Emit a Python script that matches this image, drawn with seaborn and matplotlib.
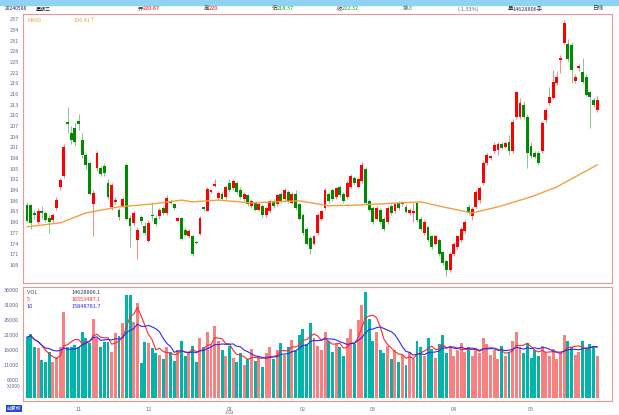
import numpy as np
import pandas as pd
import matplotlib
matplotlib.use('Agg')
import matplotlib.pyplot as plt
from matplotlib.patches import Rectangle
import seaborn as sns

# daily candles
opens = [
    184.8, 184.8, 182.5, 180.1, 183.2, 182.5, 181.1, 180.6, 184.0, 189.9,
    193.0, 208.2, 205.0, 206.5, 208.5, 203.0, 198.9, 196.6, 185.1, 195.2,
    195.2, 195.8, 191.0, 184.3, 185.8, 183.4, 184.6, 196.0, 181.2, 179.8,
    175.0, 181.5, 179.0, 174.8, 181.9, 181.2, 181.7, 184.0, 182.6, 185.7,
    185.1, 180.3, 181.2, 177.8, 176.0, 176.0, 174.4, 176.7, 184.1, 183.2,
    188.6, 190.3, 186.8, 188.0, 187.0, 191.0, 189.5, 191.0, 189.0, 186.5,
    187.5, 184.5, 185.5, 183.5, 184.5, 182.0, 183.0, 186.0, 185.0, 188.0,
    186.5, 188.5, 185.5, 188.0, 185.0, 182.0, 178.0, 175.5, 174.0, 177.0,
    181.0, 184.0, 188.0, 189.0, 187.0, 190.0, 188.0, 187.0, 190.0, 192.5,
    190.0, 191.5, 195.0, 186.0, 184.0, 181.0, 183.5, 181.0, 180.0, 184.5,
    183.0, 185.5, 185.0, 184.3, 182.5, 182.7, 185.4, 181.0, 177.0, 178.5,
    176.0, 174.0, 175.0, 171.5, 169.0, 166.5, 171.0, 173.0, 175.0, 177.5,
    184.3, 181.8, 184.3, 186.2, 191.0, 196.6, 198.1, 200.0, 200.3, 202.0,
    201.1, 202.6, 200.0, 209.6, 209.6, 212.9, 209.6, 201.4, 199.4, 199.4,
    200.0, 208.7, 213.5, 215.0, 219.1, 225.7, 230.3, 230.0, 229.8, 219.7,
    223.4, 222.2, 220.8, 216.6, 214.3, 211.5,
]
highs = [
    185.6, 185.2, 183.5, 184.0, 184.5, 183.0, 182.0, 182.5, 187.0, 192.5,
    202.0, 212.4, 207.0, 208.0, 210.5, 205.0, 199.5, 197.0, 189.0, 200.0,
    195.8, 196.5, 192.0, 191.0, 187.0, 184.0, 187.0, 196.5, 182.0, 183.0,
    178.5, 182.0, 180.0, 180.5, 185.7, 182.0, 184.0, 184.5, 187.5, 186.5,
    185.5, 181.5, 181.5, 178.5, 178.0, 176.5, 174.6, 181.8, 184.5, 190.0,
    189.2, 192.0, 188.8, 188.5, 190.5, 192.0, 192.0, 191.5, 190.0, 188.5,
    188.0, 186.5, 186.0, 185.5, 185.0, 184.5, 186.5, 186.5, 188.0, 188.5,
    189.5, 189.0, 188.5, 189.0, 185.5, 182.5, 178.5, 176.0, 176.5, 182.5,
    183.5, 189.5, 188.5, 189.5, 190.0, 190.5, 188.5, 191.5, 193.5, 193.0,
    192.5, 197.0, 195.5, 186.5, 184.5, 184.5, 184.0, 181.5, 184.5, 185.0,
    185.5, 186.0, 186.0, 185.0, 184.0, 185.5, 186.0, 181.5, 180.5, 179.0,
    176.5, 176.5, 175.5, 172.0, 169.5, 171.5, 174.5, 176.5, 178.5, 180.5,
    185.0, 184.2, 189.0, 190.2, 197.5, 199.5, 199.0, 202.5, 202.5, 202.5,
    202.8, 204.5, 209.0, 217.0, 215.0, 214.0, 210.5, 202.5, 200.0, 200.0,
    208.5, 212.0, 218.0, 222.8, 222.5, 227.0, 236.8, 231.5, 230.5, 221.5,
    224.5, 226.0, 221.5, 217.0, 215.0, 215.5,
]
lows = [
    180.0, 178.0, 181.0, 179.5, 181.0, 180.0, 177.0, 179.8, 183.5, 189.0,
    192.5, 205.1, 202.0, 201.5, 206.0, 198.0, 195.0, 187.5, 176.0, 194.5,
    193.0, 193.0, 186.5, 183.5, 185.0, 180.5, 184.0, 180.5, 173.0, 179.0,
    169.7, 179.5, 176.5, 174.5, 180.5, 179.0, 181.0, 182.0, 182.0, 185.0,
    183.5, 180.0, 175.0, 176.0, 175.5, 170.5, 173.8, 176.5, 183.0, 183.0,
    188.2, 189.8, 186.5, 186.0, 186.5, 188.5, 189.0, 188.0, 186.5, 186.0,
    184.5, 184.0, 183.0, 183.0, 181.5, 181.5, 182.5, 184.0, 184.5, 185.5,
    186.0, 185.5, 185.0, 183.5, 180.5, 176.5, 173.5, 171.0, 173.5, 176.5,
    180.5, 183.5, 185.5, 186.0, 186.5, 187.0, 185.5, 186.5, 189.5, 190.5,
    189.5, 191.0, 185.0, 183.0, 179.5, 180.5, 179.5, 177.5, 179.5, 182.0,
    182.5, 183.5, 184.5, 182.5, 182.0, 180.0, 180.0, 177.5, 176.5, 174.5,
    172.5, 173.5, 170.5, 168.0, 165.0, 166.0, 170.5, 172.5, 174.5, 177.0,
    182.0, 180.5, 184.0, 185.5, 190.5, 196.0, 197.5, 199.5, 199.0, 200.5,
    200.8, 199.0, 199.5, 209.0, 209.0, 209.0, 195.2, 198.0, 198.0, 196.0,
    199.5, 208.0, 213.0, 214.5, 218.5, 222.0, 230.0, 225.0, 219.0, 219.0,
    222.5, 219.0, 215.5, 206.5, 212.5, 211.0,
]
closes = [
    180.4, 179.8, 182.1, 183.2, 182.6, 180.6, 180.0, 182.0, 186.2, 191.9,
    201.0, 207.6, 203.0, 202.5, 207.5, 198.9, 196.0, 188.0, 188.2, 199.4,
    193.5, 193.8, 187.0, 190.5, 186.2, 181.4, 186.5, 180.9, 179.0, 182.6,
    177.8, 180.3, 177.0, 179.8, 181.6, 179.5, 183.4, 182.6, 186.8, 185.3,
    184.0, 181.2, 175.3, 176.4, 177.5, 171.0, 174.1, 181.2, 183.8, 189.3,
    188.9, 190.6, 188.2, 186.5, 190.0, 189.0, 191.5, 188.5, 187.0, 188.0,
    185.0, 186.0, 183.5, 185.0, 182.0, 184.0, 186.0, 184.5, 187.5, 186.0,
    189.0, 186.0, 188.0, 184.0, 181.0, 177.0, 174.0, 172.5, 176.0, 182.0,
    183.0, 189.0, 186.0, 186.5, 189.5, 187.5, 186.0, 191.0, 193.0, 191.0,
    192.0, 196.0, 185.5, 183.5, 180.0, 184.0, 180.0, 178.0, 184.0, 182.5,
    185.0, 184.0, 185.8, 182.9, 183.5, 183.2, 180.6, 178.0, 180.0, 175.0,
    173.0, 176.0, 171.0, 168.5, 166.5, 171.0, 174.0, 176.0, 178.0, 180.0,
    182.6, 183.7, 188.5, 189.6, 196.6, 198.9, 198.5, 201.7, 202.0, 200.8,
    202.3, 200.0, 208.2, 216.6, 213.5, 209.6, 199.4, 198.6, 198.3, 196.6,
    207.9, 211.5, 215.2, 219.4, 220.8, 226.1, 236.0, 225.9, 222.8, 220.8,
    223.8, 219.4, 215.7, 215.2, 212.9, 214.3,
]
volumes = [
    20300, 21300, 17100, 16700, 12700, 12200, 15400, 12200, 13800, 17100,
    28800, 17100, 17100, 17600, 17100, 22100, 19900, 18300, 26300, 19900,
    17100, 18800, 18800, 15400, 21700, 20800, 25000, 34300, 34300, 25500,
    31800, 11600, 18800, 18400, 16700, 15000, 14500, 13000, 17000, 15500,
    12500, 16000, 19000, 14000, 15000, 17500, 12000, 20000, 17000, 22000,
    18000, 24000, 19000, 16000, 14000, 17500, 13500, 12000, 15000, 11000,
    13000, 16500, 12500, 14000, 10500, 15000, 17000, 13000, 16000, 18500,
    14500, 17000, 19500, 16000, 21000, 23000, 18000, 25000, 20000, 17500,
    16000, 22000, 19000, 15500, 18000, 17000, 14000, 20000, 23000, 18000,
    26000, 31000, 35500, 26500, 19000, 22000, 16000, 15000, 17500, 13000,
    16000, 12000, 14500, 11000, 15500, 13000, 19000, 17000, 14000, 20000,
    16500, 13500, 18000, 21000, 15000, 17500, 14000, 16000, 18500, 15500,
    17000, 14000, 16500, 15000, 20000, 18000, 14500, 16000, 13000, 17500,
    14000, 15500, 19000, 22000, 17000, 15000, 18500, 13500, 16000, 14000,
    17500, 15500, 14000, 16500, 13000, 15000, 21000, 19000, 17000, 14500,
    15500, 19000, 16500, 18000, 17000, 14000,
]
# MA60 of the price, read at a few candles along the orange line
ma60_idx = [0, 9, 16, 25, 34, 42, 45, 52, 61, 69, 74, 82, 90, 101, 107, 113,
            121, 128, 137, 144, 150, 155]
ma60_val = [178.7, 179.8, 182.6, 184.3, 185.1, 186.2, 185.7, 186.2, 185.4,
            185.8, 186.0, 184.6, 184.8, 185.4, 185.7, 184.3, 182.6, 184.3,
            187.1, 189.9, 193.3, 196.1]

month_idx = [14, 33, 55, 75, 94, 116, 137]
month_labels = ['11', '12', '01', '02', '03', '04', '05']
price_ticks = list(range(168, 238, 3))
vol_ticks = [6000, 11000, 16000, 21000, 26000, 31000, 36000]

RED = '#FF0000'
GREEN = '#008A00'
VOL_RED = '#F98080'
VOL_GREEN = '#00B4AA'
BORDER = '#E89898'
TICK_COLOR = '#6A6A90'

W, H = 619, 415


def fx(px: float) -> float:
    return px / W


def fy(py: float) -> float:
    return 1 - py / H


def main() -> None:
    sns.set_style('white')
    plt.rcParams['font.family'] = ['Noto Sans CJK SC', 'DejaVu Sans']

    df = pd.DataFrame({
        'open': opens, 'high': highs, 'low': lows, 'close': closes,
        'volume': volumes,
    })
    df['idx'] = np.arange(len(df))
    df['up'] = df['close'] >= df['open']
    df['vol_ma5'] = df['volume'].rolling(5, min_periods=1).mean()
    df['vol_ma10'] = df['volume'].rolling(10, min_periods=1).mean()
    ma_df = pd.DataFrame({'idx': ma60_idx, 'ma60': ma60_val})

    fig = plt.figure(figsize=(W / 100, H / 100), dpi=100)
    fig.patches.append(Rectangle((0, fy(5)), 1, 5 / H, transform=fig.transFigure,
                                 color='#8ED3F4', zorder=0))

    price_ax = fig.add_axes([fx(23), fy(283), fx(612 - 23), (283 - 14) / H])
    vol_ax = fig.add_axes([fx(23), fy(401), fx(612 - 23), (401 - 287) / H],
                          sharex=price_ax)

    # PRICE AX
    colors = np.where(df['up'], RED, GREEN)
    price_ax.vlines(df['idx'], df['low'], df['high'], colors=colors,
                    linewidth=0.6, alpha=0.55, zorder=2)
    body_bottom = np.minimum(df['open'], df['close'])
    body_height = np.maximum((df['close'] - df['open']).abs(), 0.35)
    price_ax.bar(df['idx'], body_height, bottom=body_bottom, width=0.78,
                 color=colors, linewidth=0, zorder=3)
    sns.lineplot(ax=price_ax, data=ma_df, x='idx', y='ma60', color='#F4A040',
                 linewidth=1.0, zorder=4)
    price_ax.set_ylim(162.9, 238.5)
    price_ax.set_yticks(price_ticks)
    price_ax.set_yticklabels([str(t) for t in price_ticks])
    price_ax.text(0.008, 0.985, 'MA60', transform=price_ax.transAxes, fontsize=4,
                  color='#F4A040', va='top', ha='left')
    price_ax.text(0.085, 0.985, '196.41↑', transform=price_ax.transAxes,
                  fontsize=4, color='#F4A040', va='top', ha='left')

    # VOLUME AX
    vol_colors = np.where(df['up'], VOL_RED, VOL_GREEN)
    vol_ax.bar(df['idx'], df['volume'], width=0.8, color=vol_colors,
               linewidth=0, zorder=2)
    sns.lineplot(ax=vol_ax, data=df, x='idx', y='vol_ma5', color='#FF2A2A',
                 linewidth=0.8, zorder=4)
    sns.lineplot(ax=vol_ax, data=df, x='idx', y='vol_ma10', color='#2A2AFF',
                 linewidth=0.8, zorder=4)
    vol_ax.set_ylim(-900, 37000)
    vol_ax.set_yticks(vol_ticks)
    vol_ax.set_yticklabels([str(t) for t in vol_ticks])
    vol_ax.text(-0.004, 4000, 'X1000', transform=vol_ax.get_yaxis_transform(),
                fontsize=3.5, color=TICK_COLOR, ha='right', va='center')
    legend_rows = [
        ('VOL', '14628806.1', '#555555', '#333355'),
        ('5', '16553487.1', '#FF2A2A', '#FF2A2A'),
        ('10', '15848781.7', '#2A2AFF', '#2A2AFF'),
    ]
    for row, (name, value, c1, c2) in enumerate(legend_rows):
        y = 0.975 - row * 0.062
        vol_ax.text(0.006, y, name, transform=vol_ax.transAxes, fontsize=4,
                    color=c1, va='top', ha='left', zorder=6)
        vol_ax.text(0.083, y, value, transform=vol_ax.transAxes, fontsize=4,
                    color=c2, va='top', ha='left', zorder=6)

    # AXES STYLE
    for ax in (price_ax, vol_ax):
        for spine in ax.spines.values():
            spine.set_color(BORDER)
            spine.set_linewidth(0.8)
        ax.set_xlabel('')
        ax.set_ylabel('')
        ax.tick_params(axis='y', labelsize=4, labelcolor=TICK_COLOR, length=0,
                       pad=3)
    price_ax.set_xlim(-1.1, 159)
    vol_ax.set_xticks(month_idx)
    vol_ax.set_xticklabels(month_labels)
    vol_ax.set_xticks(df['idx'], minor=True)
    vol_ax.tick_params(axis='x', which='major', labelsize=4,
                       labelcolor=TICK_COLOR, length=2.5, width=0.5,
                       color=BORDER, pad=1.5)
    vol_ax.tick_params(axis='x', which='minor', length=1.2, width=0.4,
                       color=BORDER)
    price_ax.tick_params(axis='x', which='major', direction='in', length=2.5,
                         width=0.5, color=BORDER, labelbottom=False)
    vol_ax.text(55, -0.085, '2024', transform=vol_ax.get_xaxis_transform(),
                fontsize=3, color=TICK_COLOR, ha='center', va='top')

    # HEADER
    header = [
        (5, '20240508', '#222244', 3.6),
        (36, '星期三', '#222244', 3.6),
        (138, '开', '#333333', 4), (143, '220.87', RED, 4),
        (204, '高', '#333333', 4), (209, '220', RED, 4),
        (272, '低', '#333333', 4), (277, '218.37', '#1A9A1A', 4),
        (337, '收', '#333333', 4), (342, '222.32', '#1A9A1A', 4),
        (403, '涨', '#333333', 4), (408, '-3', '#1A9A1A', 4),
        (458, '(-1.33%)', '#666666', 4),
        (508, '量', '#333333', 4), (513, '14628806手', '#333355', 4),
        (592, '日线', '#333355', 4),
    ]
    for px, text, color, size in header:
        fig.text(fx(px), fy(9), text, fontsize=size, color=color, ha='left',
                 va='center')
    fig.text(fx(7), fy(408.5), '前复权', fontsize=3.5, color='white', ha='left',
             va='center', bbox=dict(boxstyle='square,pad=0.15', fc='#2244DD',
                                    ec='none'))

    fig.savefig('out.png', dpi=100)


if __name__ == '__main__':
    main()
